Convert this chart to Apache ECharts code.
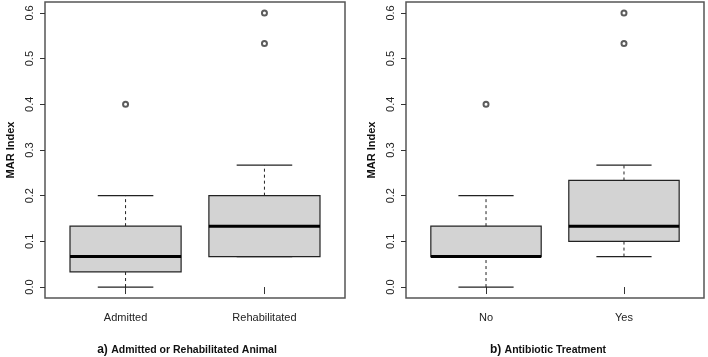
<!DOCTYPE html>
<html><head><meta charset="utf-8">
<script src="https://cdn.jsdelivr.net/npm/echarts@6/dist/echarts.min.js"></script>
<style>html,body{margin:0;padding:0;background:#fff}#c{width:708px;height:357px}</style>
</head><body><div id="c"></div>
<script>
// ---- data ----
const categoriesA = ['Admitted', 'Rehabilitated'];
// [lowWhisker, Q1, median, Q3, highWhisker]
const statsA = [
  [0.0, 0.0333, 0.0667, 0.1333, 0.2],
  [0.0667, 0.0667, 0.1333, 0.2, 0.2667]
];
const outliersA = [[1, 0.4], [2, 0.5333], [2, 0.6]];

const categoriesB = ['No', 'Yes'];
const statsB = [
  [0.0, 0.0667, 0.0667, 0.1333, 0.2],
  [0.0667, 0.1, 0.1333, 0.2333, 0.2667]
];
const outliersB = [[1, 0.4], [2, 0.5333], [2, 0.6]];

const yTicks = [0, 0.1, 0.2, 0.3, 0.4, 0.5, 0.6];
const yTitle = 'MAR Index';
const captionA = ['a)', 'Admitted or Rehabilitated Animal'];
const captionB = ['b)', 'Antibiotic Treatment'];

// ---- chart ----
const FONT = 'Liberation Sans, Arial, sans-serif';
const chart = echarts.init(document.getElementById('c'), null, {renderer: 'canvas'});

function boxData(stats) {
  return stats.map((s, i) => [i + 1].concat(s));
}

function renderBox(params, api) {
  const x = api.value(0);
  const lo = api.coord([x, api.value(1)]);
  const q1 = api.coord([x, api.value(2)]);
  const md = api.coord([x, api.value(3)]);
  const q3 = api.coord([x, api.value(4)]);
  const hi = api.coord([x, api.value(5)]);
  const hw = api.size([0.4, 0])[0];
  const cw = api.size([0.2, 0])[0];
  const cx = lo[0];
  const stroke = '#222';
  return {
    type: 'group',
    children: [
      {type: 'line', shape: {x1: cx, y1: q3[1], x2: cx, y2: hi[1]},
       style: {stroke: stroke, lineWidth: 1, lineDash: [3, 3]}},
      {type: 'line', shape: {x1: cx, y1: lo[1], x2: cx, y2: q1[1]},
       style: {stroke: stroke, lineWidth: 1, lineDash: [3, 3]}},
      {type: 'line', shape: {x1: cx - cw, y1: hi[1], x2: cx + cw, y2: hi[1]},
       style: {stroke: stroke, lineWidth: 1.2}},
      {type: 'line', shape: {x1: cx - cw, y1: lo[1], x2: cx + cw, y2: lo[1]},
       style: {stroke: stroke, lineWidth: 1.2}},
      {type: 'rect', shape: {x: cx - hw, y: q3[1], width: 2 * hw, height: q1[1] - q3[1]},
       style: {fill: '#d3d3d3', stroke: stroke, lineWidth: 1.2}},
      {type: 'line', shape: {x1: cx - hw, y1: md[1], x2: cx + hw, y2: md[1]},
       style: {stroke: '#000', lineWidth: 3}}
    ]
  };
}

function xAxisFor(idx, cats) {
  return {
    type: 'value', gridIndex: idx, min: 0.42, max: 2.58,
    axisLine: {show: false},
    splitLine: {show: false},
    axisTick: {show: true, length: 7, customValues: [1, 2], lineStyle: {color: '#333'}},
    axisLabel: {show: true, customValues: [1, 2], margin: 14,
      fontFamily: FONT, fontSize: 11, color: '#222',
      formatter: v => cats[Math.round(v) - 1] || ''}
  };
}

function yAxisFor(idx) {
  return {
    type: 'value', gridIndex: idx, min: -0.024, max: 0.624,
    axisLine: {show: false},
    splitLine: {show: false},
    axisTick: {show: true, length: 5, customValues: yTicks, lineStyle: {color: '#333'}},
    axisLabel: {show: true, customValues: yTicks, rotate: 90, margin: 10,
      fontFamily: FONT, fontSize: 11, color: '#222',
      formatter: v => v.toFixed(1)},
    name: yTitle, nameLocation: 'middle', nameRotate: 90, nameGap: 29,
    nameTextStyle: {fontFamily: FONT, fontSize: 11, fontWeight: 'bold', color: '#111'}
  };
}

const option = {
  animation: false,
  backgroundColor: '#fff',
  grid: [
    {left: 45, top: 2, width: 300, height: 296, show: true, borderColor: '#555', borderWidth: 1.5, backgroundColor: 'transparent'},
    {left: 406, top: 2, width: 298, height: 296, show: true, borderColor: '#555', borderWidth: 1.5, backgroundColor: 'transparent'}
  ],
  xAxis: [xAxisFor(0, categoriesA), xAxisFor(1, categoriesB)],
  yAxis: [yAxisFor(0), yAxisFor(1)],
  series: [
    {type: 'custom', xAxisIndex: 0, yAxisIndex: 0, renderItem: renderBox,
     encode: {x: 0, y: [1, 2, 3, 4, 5]}, data: boxData(statsA)},
    {type: 'custom', xAxisIndex: 1, yAxisIndex: 1, renderItem: renderBox,
     encode: {x: 0, y: [1, 2, 3, 4, 5]}, data: boxData(statsB)},
    {type: 'scatter', xAxisIndex: 0, yAxisIndex: 0, symbol: 'emptyCircle', symbolSize: 5,
     itemStyle: {color: '#333', borderColor: '#333', borderWidth: 0.8}, data: outliersA},
    {type: 'scatter', xAxisIndex: 1, yAxisIndex: 1, symbol: 'emptyCircle', symbolSize: 5,
     itemStyle: {color: '#333', borderColor: '#333', borderWidth: 0.8}, data: outliersB}
  ],
  graphic: [
    {type: 'text', x: 187, y: 350, style: {
      text: '{a|' + captionA[0] + '} {b|' + captionA[1] + '}',
      align: 'center', verticalAlign: 'middle',
      rich: {a: {fontFamily: FONT, fontSize: 12, fontWeight: 'bold', fill: '#111'},
             b: {fontFamily: FONT, fontSize: 10.5, fontWeight: 'bold', fill: '#111'}}}},
    {type: 'text', x: 548, y: 350, style: {
      text: '{a|' + captionB[0] + '} {b|' + captionB[1] + '}',
      align: 'center', verticalAlign: 'middle',
      rich: {a: {fontFamily: FONT, fontSize: 12, fontWeight: 'bold', fill: '#111'},
             b: {fontFamily: FONT, fontSize: 10.5, fontWeight: 'bold', fill: '#111'}}}}
  ]
};
chart.setOption(option);
</script>
</body></html>
